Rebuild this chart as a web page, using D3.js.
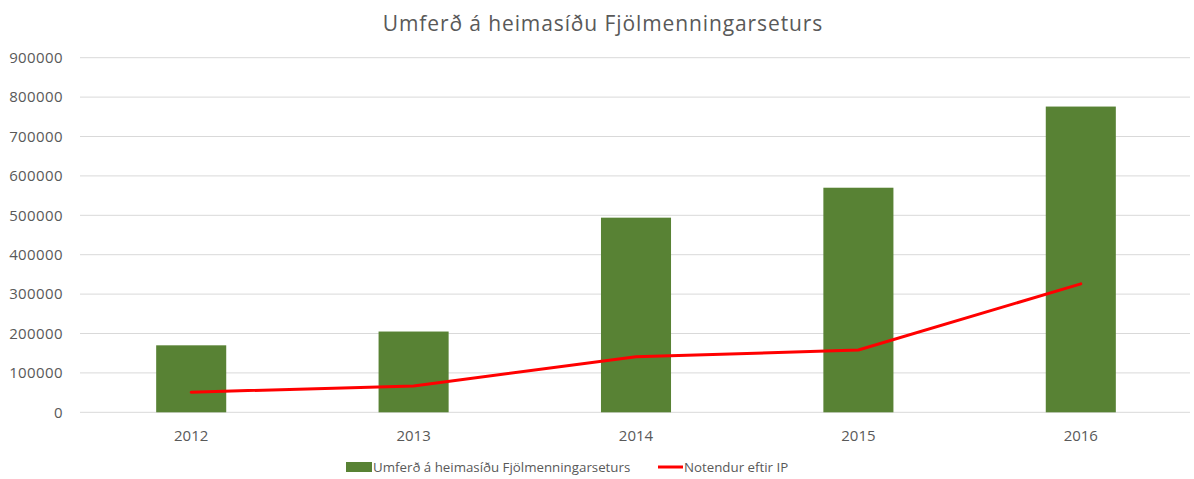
<!DOCTYPE html>
<html>
  <head>
    <meta charset="utf-8">
    <title></title>
    <style>
      body { margin: 0; background: #fff; }
      text { font-family: "Open Sans", sans-serif; fill: #595959; }
    </style>
  </head>
  <body>
    <div id="chart"></div>
    <script src="https://d3js.org/d3.v7.min.js"></script>
    <script>

      const width = 1194;
      const height = 479;

      const years = ['2012', '2013', '2014', '2015', '2016'];
      const traffic = [170000, 205000, 494000, 570000, 776000];
      const users = [51000, 67000, 141000, 158000, 326000];
      const yTicks = [0, 100000, 200000, 300000, 400000, 500000, 600000, 700000, 800000, 900000];

      const barName = 'Umferð á heimasíðu Fjölmenningarseturs';
      const lineName = 'Notendur eftir IP';

      const margin = {top: 57.7, right: 2, bottom: 66.7, left: 80};

      const svg = d3.select('#chart')
                    .append('svg')
                    .attr('width', width)
                    .attr('height', height)

      const x = d3.scaleBand()
                  .domain(years)
                  .range([margin.left, width - margin.right])
                  .paddingInner(0.685)
                  .paddingOuter(0.3425)

      const y = d3.scaleLinear()
                  .domain([0, 900000])
                  .range([height - margin.bottom, margin.top])

      // gridlines
      svg.append('g')
        .selectAll('line')
        .data(yTicks)
        .enter()
        .append('line')
        .attr('x1', margin.left)
        .attr('x2', width - 4)
        .attr('y1', d => y(d))
        .attr('y2', d => y(d))
        .attr('stroke', '#d9d9d9')
        .attr('stroke-width', 1)

      // y axis labels
      const yAxis = svg.append('g')
        .attr('transform', `translate(${margin.left - 17},0)`)
        .call(d3.axisLeft(y).tickValues(yTicks).tickSize(0).tickPadding(0).tickFormat(d3.format('d')))
      yAxis.select('.domain').remove()
      yAxis.selectAll('text')
        .style('font-size', '15px')
        .style('letter-spacing', '0.4px')
        .style('font-family', '"Open Sans", sans-serif')
        .attr('fill', '#595959')

      // x axis labels
      const xAxis = svg.append('g')
        .attr('transform', `translate(0,${height - margin.bottom + 14})`)
        .call(d3.axisBottom(x).tickSize(0).tickPadding(4))
      xAxis.select('.domain').remove()
      xAxis.selectAll('text')
        .style('font-size', '15px')
        .style('font-family', '"Open Sans", sans-serif')
        .attr('fill', '#595959')

      // bars
      svg.append('g')
        .selectAll('rect')
        .data(years)
        .enter()
        .append('rect')
        .attr('x', d => x(d))
        .attr('width', x.bandwidth())
        .attr('y', (d, i) => y(traffic[i]))
        .attr('height', (d, i) => y(0) - y(traffic[i]))
        .attr('fill', '#588234')

      // line
      const line = d3.line()
                     .x((d, i) => x(years[i]) + x.bandwidth() / 2)
                     .y(d => y(d))

      svg.append('path')
        .datum(users)
        .attr('d', line)
        .attr('fill', 'none')
        .attr('stroke', '#ff0000')
        .attr('stroke-width', 3)
        .attr('stroke-linejoin', 'round')
        .attr('stroke-linecap', 'round')

      // title
      svg.append('text')
        .attr('x', 603)
        .attr('y', 31)
        .attr('text-anchor', 'middle')
        .style('font-size', '21px')
        .style('letter-spacing', '0.9px')
        .text('Umferð á heimasíðu Fjölmenningarseturs')

      // legend
      const legend = svg.append('g').attr('transform', 'translate(346,467)')
      legend.append('rect')
        .attr('x', 0).attr('y', -5).attr('width', 26).attr('height', 10)
        .attr('fill', '#588234')
      legend.append('text')
        .attr('x', 27).attr('y', 5)
        .style('font-size', '13.3px')
        .text(barName)
      legend.append('line')
        .attr('x1', 312).attr('x2', 337).attr('y1', 0).attr('y2', 0)
        .attr('stroke', '#ff0000').attr('stroke-width', 3)
      legend.append('text')
        .attr('x', 338).attr('y', 5)
        .style('font-size', '13.3px')
        .text(lineName)

    </script>
  </body>
</html>
